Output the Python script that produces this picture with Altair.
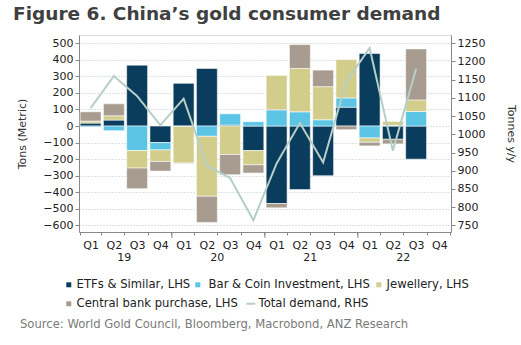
import altair as alt
import pandas as pd

PERIODS = ["19 Q1", "19 Q2", "19 Q3", "19 Q4",
           "20 Q1", "20 Q2", "20 Q3", "20 Q4",
           "21 Q1", "21 Q2", "21 Q3", "21 Q4",
           "22 Q1", "22 Q2", "22 Q3", "22 Q4"]
YEAR_LABELS = ["19", "20", "21", "22"]
YEAR_ANCHORS = ["19 Q2", "20 Q2", "21 Q2", "22 Q2"]
YEAR_STARTS = ["20 Q1", "21 Q1", "22 Q1"]

ETF = [18, 36, 368, -100, 258, 348, 6, -148, -468, -384, -300, 114, 438, -80, -200, None]
BAR = [-6, -28, -148, -44, -2, -62, 68, 26, 98, 86, 38, 56, -72, 4, 88, None]
JEW = [12, 26, -106, -70, -222, -362, -172, -86, 208, 262, 200, 232, -26, 24, 70, None]
CB = [56, 72, -124, -58, -4, -158, -122, -50, -26, 144, 100, -22, -22, -28, 308, None]
TOTAL = [1072, 1160, 1105, 1025, 1098, 914, 880, 764, 920, 1031, 923, 1145, 1237, 955, 1180, None]

SERIES = ["ETFs & Similar, LHS", "Bar & Coin Investment, LHS", "Jewellery, LHS",
          "Central bank purchase, LHS"]
COLORS = ["#0a3d5d", "#5cc4e5", "#d3cd8c", "#a89b8f"]
LINE_NAME = "Total demand, RHS"
LINE_COLOR = "#b5cfc6"
SOURCE = ["Source: World Gold Council, Bloomberg, Macrobond, ANZ Research"]
TITLE = "Figure 6. China\u2019s gold consumer demand"

rows = []
for i, p in enumerate(PERIODS):
    for k, vals in enumerate([ETF, BAR, JEW, CB]):
        if vals[i] is not None:
            rows.append({"period": p, "series": SERIES[k], "value": vals[i], "order": k})
bars_df = pd.DataFrame(rows)
line_df = pd.DataFrame([{"period": p, "total": t, "name": LINE_NAME}
                        for p, t in zip(PERIODS, TOTAL) if t is not None])
years_df = pd.DataFrame({"period": YEAR_ANCHORS, "label": YEAR_LABELS})
starts_df = pd.DataFrame({"period": YEAR_STARTS})
source_df = pd.DataFrame({"text": SOURCE})

W, H = 372, 197
FONT = "DejaVu Sans"
LFS = 11.6
ROW1, ROW2 = 244, 263
LEG_POS = [(-16, ROW1), (113, ROW1), (294, ROW1), (-16, ROW2)]
LEG_OFFSETS = [2, 5, 2, 2]

xscale = alt.Scale(domain=PERIODS, paddingInner=0.1, paddingOuter=0.05)

LEG_COMMON = dict(title=None, orient="none", direction="horizontal", padding=0,
                  labelFont=FONT, labelFontSize=LFS, labelColor="#222222",
                  labelLimit=400)

bars = alt.Chart(bars_df).mark_bar(stroke="white", strokeWidth=0.8, strokeOpacity=0.7).encode(
    x=alt.X("period:N", scale=xscale, axis=alt.Axis(
        title=None, labelExpr="split(datum.value, ' ')[1]", labelAngle=0,
        tickBand="extent", tickSize=3, labelPadding=4, domainColor="#888888",
        tickColor="#888888", labelFont=FONT, labelFontSize=11, labelColor="#222222")),
    y=alt.Y("value:Q", stack="zero",
            scale=alt.Scale(domain=[-640, 550], nice=False, zero=False),
            axis=alt.Axis(title="Tons (Metric)", values=list(range(-600, 501, 100)),
                          grid=True, gridDash=[1, 2], gridColor="#b8c6cf", gridWidth=1,
                          tickSize=4, domainColor="#888888", tickColor="#888888",
                          labelFont=FONT, labelFontSize=11, labelColor="#222222",
                          titleFont=FONT, titleFontSize=11, titleFontWeight="normal",
                          titleColor="#333333", titleX=-52, titleY=H / 2)),
    color=alt.Color("series:N", scale=alt.Scale(domain=SERIES, range=COLORS), legend=None),
    order=alt.Order("order:Q"),
)

# one legend entry per bar series (dummy layers with no rows, independent shape legends)
legend_layers = []
for i, (name, col) in enumerate(zip(SERIES, COLORS)):
    lx, ly = LEG_POS[i]
    fld = f"k{i}"
    legend_layers.append(
        alt.Chart(pd.DataFrame({fld: [name]})).transform_filter("false")
        .mark_point(filled=True, color=col, opacity=1)
        .encode(shape=alt.Shape(f"{fld}:N", scale=alt.Scale(domain=[name], range=["square"]),
                                legend=alt.Legend(legendX=lx, legendY=ly, symbolSize=25,
                                                  symbolFillColor=col, symbolStrokeWidth=0,
                                                  symbolOpacity=1, labelOffset=LEG_OFFSETS[i],
                                                  **LEG_COMMON)))
    )

line = alt.Chart(line_df).mark_line(color=LINE_COLOR, strokeWidth=2).encode(
    x=alt.X("period:N", scale=xscale),
    y=alt.Y("total:Q", scale=alt.Scale(domain=[731.82, 1272.73], nice=False, zero=False),
            axis=alt.Axis(orient="right", title="Tonnes y/y", values=list(range(750, 1251, 50)),
                          format="d", grid=False, tickSize=4, domainColor="#888888",
                          tickColor="#888888",
                          labelFont=FONT, labelFontSize=11, labelColor="#222222",
                          titleFont=FONT, titleFontSize=11, titleFontWeight="normal",
                          titleColor="#333333", titleAngle=90, titleX=54, titleY=H / 2)),
    strokeDash=alt.StrokeDash("name:N", scale=alt.Scale(domain=[LINE_NAME], range=[[1, 0]]),
                              legend=alt.Legend(legendX=166, legendY=ROW2, symbolType="stroke",
                                                symbolStrokeColor=LINE_COLOR, symbolStrokeWidth=2,
                                                symbolSize=80, labelOffset=2, **LEG_COMMON)),
)

years = alt.Chart(years_df).mark_text(font=FONT, fontSize=11, color="#222222").encode(
    x=alt.X("period:N", scale=xscale, bandPosition=1),
    y=alt.value(H + 26),
    text="label:N",
)

ticks = alt.Chart(starts_df).mark_rule(color="#888888", strokeWidth=1, xOffset=-1.2).encode(
    x=alt.X("period:N", scale=xscale, bandPosition=0),
    y=alt.value(H),
    y2=alt.value(H + 6),
)

source = alt.Chart(source_df).mark_text(font=FONT, fontSize=LFS, color="#7a7a7a", align="left").encode(
    x=alt.value(-59),
    y=alt.value(H + 93),
    text="text:N",
)

chart = alt.layer(bars, line, years, ticks, source, *legend_layers).resolve_scale(
    y="independent", shape="independent"
).resolve_legend(shape="independent").properties(
    width=W, height=H,
    title=alt.TitleParams(text=TITLE, anchor="start", frame="group", dx=-66, offset=12,
                          font=FONT, fontSize=18.5, fontWeight="bold", color="#404040"),
    autosize=alt.AutoSizeParams(type="none"),
    padding={"left": 79, "top": 35, "right": 70, "bottom": 113},
).configure_view(stroke=None).configure(background="white")

chart.save("out.html", embed_options={"renderer": "svg", "actions": False})
